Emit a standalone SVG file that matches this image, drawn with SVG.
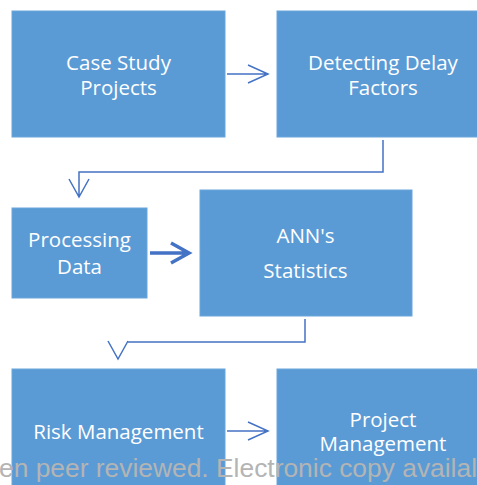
<svg xmlns="http://www.w3.org/2000/svg" width="477" height="485" viewBox="0 0 477 485">
<style>
.box{fill:#5b9bd5;stroke:#6aa5db;stroke-width:1}
.t{font-family:"Open Sans","Liberation Sans",sans-serif;font-size:20.5px;fill:#ffffff;text-anchor:middle}
.c{fill:none;stroke:#4472c4;stroke-width:1.5}
.wm{font-family:"Liberation Sans",Arial,sans-serif;font-size:25px;fill:#b4b4b4}
</style>
<rect width="477" height="485" fill="#ffffff"/>
<g id="case-study">
<rect class="box" x="12" y="11" width="213" height="126"/>
<text class="t" x="118.5" y="70">Case Study</text>
<text class="t" x="118.5" y="95">Projects</text>
</g>
<g id="detecting">
<rect class="box" x="277" y="11" width="205" height="126"/>
<text class="t" x="383" y="70">Detecting Delay</text>
<text class="t" x="383" y="95">Factors</text>
</g>
<g id="processing">
<rect class="box" x="12" y="208" width="135" height="90"/>
<text class="t" x="79.5" y="247">Processing</text>
<text class="t" x="79.5" y="274">Data</text>
</g>
<g id="ann">
<rect class="box" x="200" y="190" width="212" height="126"/>
<text class="t" x="305.5" y="243">ANN's</text>
<text class="t" x="305.5" y="278">Statistics</text>
</g>
<g id="risk">
<rect class="box" x="12" y="369" width="213" height="125"/>
<text class="t" x="118.5" y="439">Risk Management</text>
</g>
<g id="project">
<rect class="box" x="277" y="369" width="205" height="125"/>
<text class="t" x="383" y="427">Project</text>
<text class="t" x="383" y="451">Management</text>
</g>
<g id="connectors">
<path class="c" d="M227 74H268M248 65L268 74L248 83"/>
<path class="c" d="M383 140V172H79V197M69 179L79 197L89 179"/>
<path class="c" d="M150 253H188M171 243L189 253L171 263" style="stroke-width:3.5"/>
<path class="c" d="M305 319V342H128M108 341L118 359L128 341"/>
<path class="c" d="M227 431H268M248 422L268 431L248 440"/>
</g>
<text class="wm" x="-1" y="477" textLength="478" lengthAdjust="spacingAndGlyphs">en peer reviewed. Electronic copy availal</text>
</svg>
